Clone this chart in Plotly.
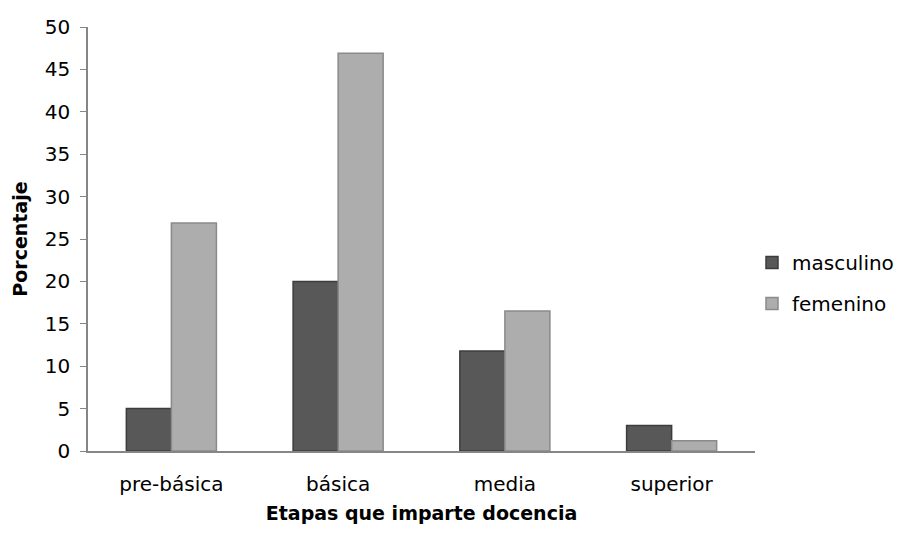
import plotly.graph_objects as go

categories = ["pre-básica", "básica", "media", "superior"]
masculino = [5.0, 20.0, 11.8, 3.0]
femenino = [26.9, 46.9, 16.5, 1.2]
y_ticks = [0, 5, 10, 15, 20, 25, 30, 35, 40, 45, 50]

FONT = "'DejaVu Sans', sans-serif"

fig = go.Figure()
fig.add_trace(go.Bar(
    name="masculino", x=categories, y=masculino, legendgroup="m",
    marker=dict(color="#585858", line=dict(color="#3c3c3c", width=1.5)),
))
fig.add_trace(go.Bar(
    name="femenino", x=categories, y=femenino, legendgroup="f",
    marker=dict(color="#adadad", line=dict(color="#8a8a8a", width=1.5)),
))

fig.update_layout(
    width=902, height=536,
    barmode="group", bargap=0.46, bargroupgap=0,
    plot_bgcolor="white", paper_bgcolor="white",
    margin=dict(l=80, r=155, t=19, b=93, autoexpand=False),
    font=dict(family=FONT, size=20, color="#000000"),
    legend=dict(x=0.9955, y=0.396, xanchor="left", yanchor="middle",
                font=dict(size=20), itemwidth=30, tracegroupgap=12),
    xaxis=dict(
        showline=True, linecolor="#868686", linewidth=1.5, automargin=False,
        ticks="", tickfont=dict(size=20), ticklabelstandoff=14,
        title=dict(text="<b>Etapas que imparte docencia</b>", font=dict(size=19), standoff=12),
    ),
    yaxis=dict(
        range=[0, 50], tickvals=y_ticks, showgrid=False, automargin=False,
        showline=True, linecolor="#868686", linewidth=1.5,
        ticks="outside", ticklen=6, tickcolor="#868686", ticklabelstandoff=6,
        tickfont=dict(size=20), zeroline=False,
        title=dict(text="<b>Porcentaje</b>", font=dict(size=19), standoff=12),
    ),
)

fig.write_html("out.html")
